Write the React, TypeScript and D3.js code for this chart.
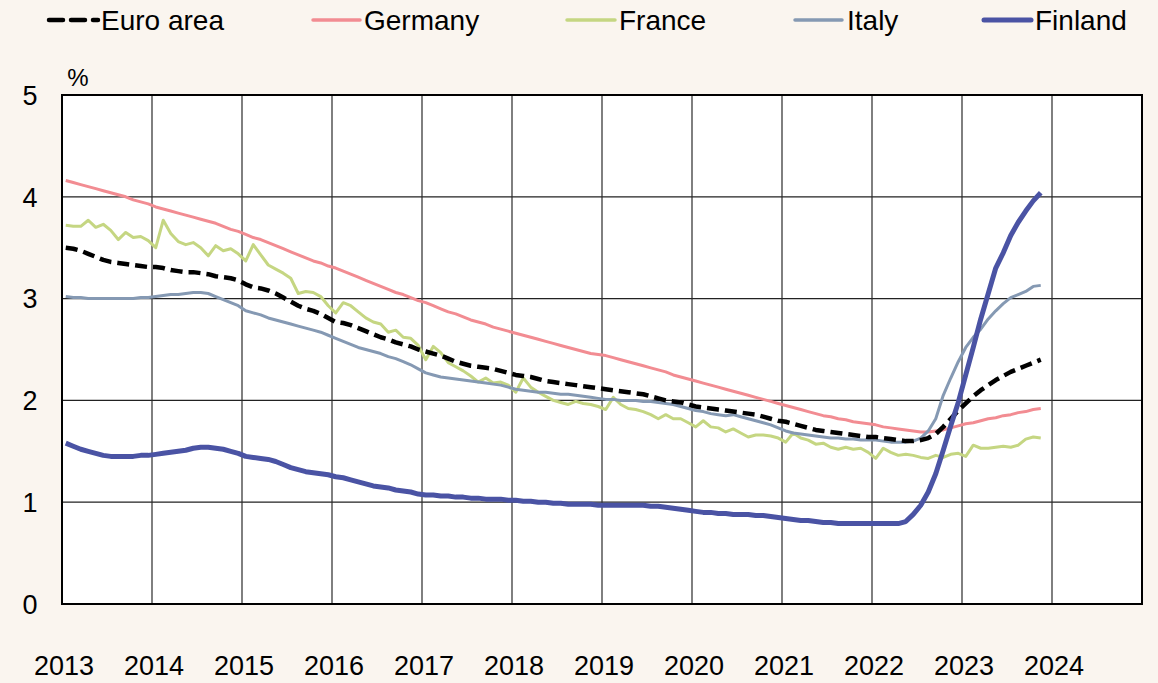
import React from "react";
import * as d3 from "d3";

const START_YEAR = 2013;
const yearTicks = [2013, 2014, 2015, 2016, 2017, 2018, 2019, 2020, 2021, 2022, 2023, 2024];
const yTicks = [0, 1, 2, 3, 4, 5];

// Monthly values Jan 2013 .. Nov 2023
const euroArea = [
  3.50, 3.49, 3.47, 3.44, 3.41, 3.38, 3.36, 3.35, 3.34, 3.33, 3.32, 3.31,
  3.31, 3.30, 3.28, 3.27, 3.26, 3.26, 3.25, 3.24, 3.22, 3.21, 3.20, 3.18,
  3.14, 3.11, 3.10, 3.08, 3.05, 3.01, 2.97, 2.93, 2.90, 2.88, 2.85, 2.81,
  2.77, 2.76, 2.74, 2.71, 2.68, 2.65, 2.62, 2.60, 2.57, 2.55, 2.53, 2.50,
  2.48, 2.46, 2.44, 2.41, 2.38, 2.36, 2.34, 2.33, 2.32, 2.31, 2.29, 2.27,
  2.25, 2.24, 2.23, 2.21, 2.19, 2.18, 2.17, 2.16, 2.15, 2.14, 2.13, 2.12,
  2.11, 2.10, 2.09, 2.08, 2.07, 2.06, 2.04, 2.02, 2.00, 1.99, 1.98, 1.96,
  1.94, 1.93, 1.92, 1.91, 1.90, 1.89, 1.88, 1.87, 1.86, 1.84, 1.82, 1.80,
  1.79, 1.77, 1.75, 1.73, 1.71, 1.70, 1.69, 1.68, 1.67, 1.66, 1.65, 1.64,
  1.64, 1.63, 1.62, 1.61, 1.60, 1.60, 1.61, 1.63, 1.67, 1.74, 1.82, 1.90,
  1.97, 2.04, 2.10, 2.15, 2.20, 2.24, 2.28, 2.31, 2.34, 2.37, 2.40,
];

const germany = [
  4.16, 4.14, 4.12, 4.10, 4.08, 4.06, 4.04, 4.02, 4.00, 3.97, 3.95, 3.93,
  3.90, 3.88, 3.86, 3.84, 3.82, 3.80, 3.78, 3.76, 3.74, 3.71, 3.68, 3.66,
  3.63, 3.60, 3.58, 3.55, 3.52, 3.49, 3.46, 3.43, 3.40, 3.37, 3.35, 3.32,
  3.30, 3.27, 3.24, 3.21, 3.18, 3.15, 3.12, 3.09, 3.06, 3.04, 3.01, 2.98,
  2.96, 2.93, 2.90, 2.87, 2.85, 2.82, 2.79, 2.77, 2.75, 2.72, 2.70, 2.68,
  2.66, 2.64, 2.62, 2.60, 2.58, 2.56, 2.54, 2.52, 2.50, 2.48, 2.46, 2.45,
  2.44, 2.42, 2.40, 2.38, 2.36, 2.34, 2.32, 2.30, 2.28, 2.25, 2.23, 2.21,
  2.19, 2.17, 2.15, 2.13, 2.11, 2.09, 2.07, 2.05, 2.03, 2.01, 1.99, 1.97,
  1.95, 1.93, 1.91, 1.89, 1.87, 1.85, 1.84, 1.82, 1.81, 1.79, 1.78, 1.77,
  1.76, 1.74, 1.73, 1.72, 1.71, 1.70, 1.69, 1.69, 1.70, 1.71, 1.73, 1.75,
  1.77, 1.78, 1.80, 1.82, 1.83, 1.85, 1.86, 1.88, 1.89, 1.91, 1.92,
];

const france = [
  3.72, 3.71, 3.71, 3.77, 3.70, 3.73, 3.67, 3.58, 3.65, 3.60, 3.61, 3.57,
  3.50, 3.77, 3.64, 3.56, 3.53, 3.55, 3.50, 3.42, 3.52, 3.47, 3.49, 3.44,
  3.37, 3.53, 3.43, 3.33, 3.29, 3.25, 3.20, 3.05, 3.07, 3.06, 3.02, 2.93,
  2.86, 2.96, 2.93, 2.87, 2.81, 2.77, 2.75, 2.67, 2.69, 2.62, 2.61, 2.54,
  2.40, 2.53, 2.47, 2.37, 2.33, 2.29, 2.24, 2.18, 2.22, 2.17, 2.18, 2.15,
  2.08, 2.22, 2.13, 2.08, 2.04, 2.00, 1.98, 1.96, 1.99, 1.97, 1.96, 1.94,
  1.91, 2.03, 1.96, 1.92, 1.91, 1.89, 1.86, 1.82, 1.86, 1.82, 1.82, 1.78,
  1.74, 1.80, 1.74, 1.73, 1.69, 1.72, 1.68, 1.64, 1.66, 1.66, 1.65, 1.63,
  1.59, 1.68, 1.63, 1.61, 1.57, 1.58, 1.54, 1.52, 1.54, 1.52, 1.53, 1.49,
  1.43, 1.53, 1.49, 1.46, 1.47, 1.46, 1.44, 1.43, 1.46, 1.44, 1.47, 1.48,
  1.45, 1.56, 1.53, 1.53, 1.54, 1.55, 1.54, 1.56, 1.62, 1.64, 1.63,
];

const italy = [
  3.02, 3.01, 3.01, 3.00, 3.00, 3.00, 3.00, 3.00, 3.00, 3.00, 3.01, 3.01,
  3.02, 3.03, 3.04, 3.04, 3.05, 3.06, 3.06, 3.05, 3.02, 2.99, 2.96, 2.93,
  2.88, 2.86, 2.84, 2.81, 2.79, 2.77, 2.75, 2.73, 2.71, 2.69, 2.67, 2.64,
  2.61, 2.58, 2.55, 2.52, 2.50, 2.48, 2.46, 2.43, 2.41, 2.38, 2.35, 2.31,
  2.27, 2.25, 2.23, 2.22, 2.21, 2.20, 2.19, 2.18, 2.17, 2.16, 2.15, 2.13,
  2.11, 2.10, 2.09, 2.08, 2.08, 2.07, 2.06, 2.06, 2.05, 2.04, 2.03, 2.02,
  2.01, 2.01, 2.00, 2.00, 2.00, 1.99, 1.99, 1.98, 1.97, 1.96, 1.94, 1.92,
  1.90, 1.89, 1.87, 1.86, 1.85, 1.86, 1.84, 1.82, 1.80, 1.78, 1.76, 1.73,
  1.70, 1.68, 1.67, 1.66, 1.65, 1.64, 1.63, 1.63, 1.62, 1.62, 1.61, 1.61,
  1.61, 1.60, 1.59, 1.59, 1.59, 1.60, 1.63, 1.70, 1.82, 2.05, 2.22, 2.38,
  2.52, 2.62, 2.70, 2.80, 2.88, 2.95, 3.01, 3.04, 3.07, 3.12, 3.13,
];

const finland = [
  1.58, 1.55, 1.52, 1.50, 1.48, 1.46, 1.45, 1.45, 1.45, 1.45, 1.46, 1.46,
  1.47, 1.48, 1.49, 1.50, 1.51, 1.53, 1.54, 1.54, 1.53, 1.52, 1.50, 1.48,
  1.45, 1.44, 1.43, 1.42, 1.40, 1.37, 1.34, 1.32, 1.30, 1.29, 1.28, 1.27,
  1.25, 1.24, 1.22, 1.20, 1.18, 1.16, 1.15, 1.14, 1.12, 1.11, 1.10, 1.08,
  1.07, 1.07, 1.06, 1.06, 1.05, 1.05, 1.04, 1.04, 1.03, 1.03, 1.03, 1.02,
  1.02, 1.01, 1.01, 1.00, 1.00, 0.99, 0.99, 0.98, 0.98, 0.98, 0.98, 0.97,
  0.97, 0.97, 0.97, 0.97, 0.97, 0.97, 0.96, 0.96, 0.95, 0.94, 0.93, 0.92,
  0.91, 0.90, 0.90, 0.89, 0.89, 0.88, 0.88, 0.88, 0.87, 0.87, 0.86, 0.85,
  0.84, 0.83, 0.82, 0.82, 0.81, 0.80, 0.80, 0.79, 0.79, 0.79, 0.79, 0.79,
  0.79, 0.79, 0.79, 0.79, 0.81, 0.88, 0.97, 1.10, 1.28, 1.51, 1.75, 1.98,
  2.25, 2.52, 2.80, 3.05, 3.30, 3.45, 3.62, 3.75, 3.86, 3.96, 4.04,
];

const seriesNames = ["Euro area", "Germany", "France", "Italy", "Finland"];

const W = 1158;
const H = 683;
const FONT = "'Liberation Sans', Arial, sans-serif";

export default function App() {
  const x = d3.scaleLinear().domain([2013, 2025]).range([62, 1142]);
  const y = d3.scaleLinear().domain([0, 5]).range([604, 95]);

  const pos = (i: number) => START_YEAR + (i + 0.5) / 12;
  const line = d3
    .line<number>()
    .x((_, i) => x(pos(i)))
    .y((d) => y(d));

  const series = [
    { name: "Germany", data: germany, color: "#F28C92", width: 3, dash: undefined },
    { name: "France", data: france, color: "#C5D682", width: 3, dash: undefined },
    { name: "Italy", data: italy, color: "#8599B3", width: 3, dash: undefined },
    { name: "Euro area", data: euroArea, color: "#000000", width: 4.5, dash: "12,6" },
    { name: "Finland", data: finland, color: "#4A53A4", width: 5, dash: undefined },
  ];

  const legendPos: Record<string, { x1: number; x2: number; tx: number }> = {
    "Euro area": { x1: 49, x2: 98, tx: 101 },
    Germany: { x1: 313, x2: 360, tx: 364 },
    France: { x1: 567, x2: 615, tx: 619 },
    Italy: { x1: 795, x2: 842, tx: 847 },
    Finland: { x1: 984, x2: 1031, tx: 1035 },
  };

  return (
    <div style={{ position: "absolute", left: 0, top: 0 }}>
      <svg width={W} height={H} style={{ display: "block" }}>
        <rect x={0} y={0} width={W} height={H} fill="#FAF5EF" />
        <rect x={x(2013)} y={y(5)} width={x(2025) - x(2013)} height={y(0) - y(5)} fill="#FFFFFF" />
        {/* grid */}
        {yTicks.slice(1, -1).map((t) => (
          <line key={"h" + t} x1={x(2013)} x2={x(2025)} y1={y(t)} y2={y(t)} stroke="#222" strokeWidth={1.2} />
        ))}
        {yearTicks.slice(1).map((t) => (
          <line key={"v" + t} x1={x(t)} x2={x(t)} y1={y(5)} y2={y(0)} stroke="#2a2a2a" strokeWidth={1.2} />
        ))}
        {/* series */}
        {series.map((s) => (
          <path
            key={s.name}
            d={line(s.data) || ""}
            fill="none"
            stroke={s.color}
            strokeWidth={s.width}
            strokeDasharray={s.dash}
            strokeLinejoin="round"
          />
        ))}
        {/* frame */}
        <rect
          x={x(2013)}
          y={y(5)}
          width={x(2025) - x(2013)}
          height={y(0) - y(5)}
          fill="none"
          stroke="#000"
          strokeWidth={2}
        />
        {/* y labels */}
        {yTicks.map((t) => (
          <text key={"yl" + t} x={30} y={y(t)} dy="0.36em" textAnchor="middle" fontFamily={FONT} fontSize={27} fill="#000">
            {t}
          </text>
        ))}
        <text x={78} y={86} textAnchor="middle" fontFamily={FONT} fontSize={24} fill="#000">
          %
        </text>
        {/* x labels */}
        {yearTicks.map((t) => (
          <text key={"xl" + t} x={x(t) + 2} y={675} textAnchor="middle" fontFamily={FONT} fontSize={27} fill="#000">
            {t}
          </text>
        ))}
        {/* legend */}
        {seriesNames.map((n) => {
          const s = series.find((q) => q.name === n)!;
          const p = legendPos[n];
          return (
            <g key={"lg" + n}>
              <line
                x1={p.x1}
                x2={p.x2}
                y1={20}
                y2={20}
                stroke={s.color}
                strokeWidth={n === "Euro area" ? 4.5 : n === "Finland" ? 5 : 3.5}
                strokeDasharray={n === "Euro area" ? "14,8" : undefined}
                strokeLinecap="round"
              />
              <text x={p.tx} y={30} fontFamily={FONT} fontSize={28} fill="#000">
                {n}
              </text>
            </g>
          );
        })}
      </svg>
    </div>
  );
}
